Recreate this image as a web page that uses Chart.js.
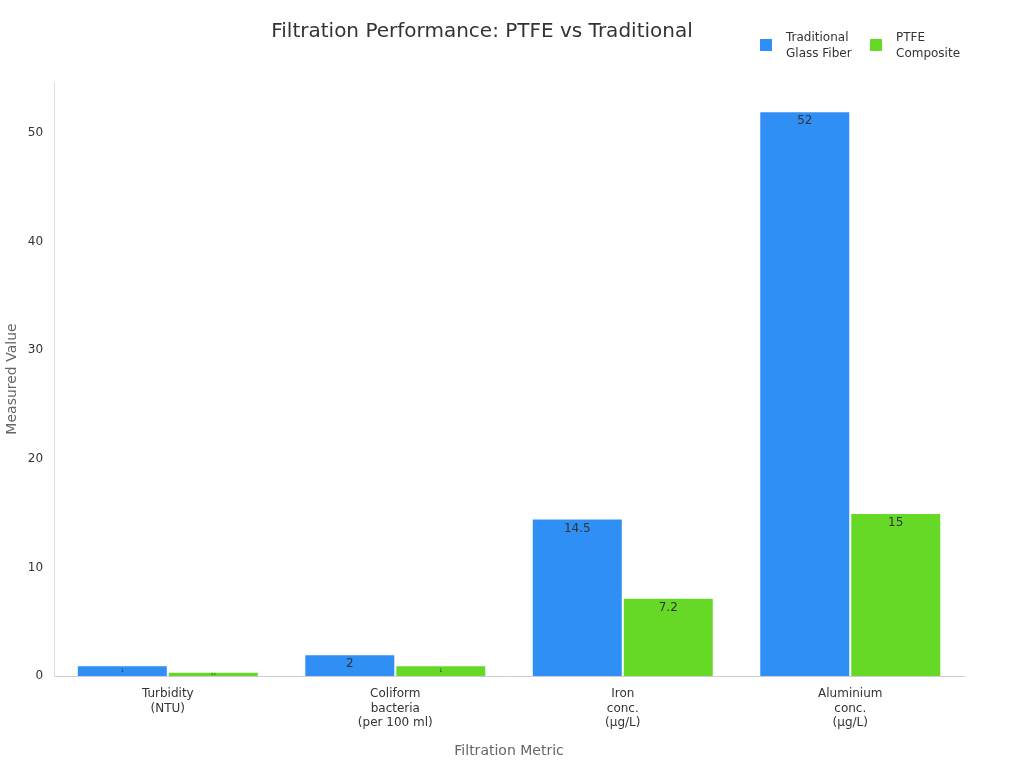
<!DOCTYPE html>
<html><head><meta charset="utf-8">
<script src="https://cdn.jsdelivr.net/npm/chart.js@4"></script>
<style>html,body{margin:0;background:#fff}#w{width:1024px;height:768px}</style>
</head><body><div id="w"><canvas id="c"></canvas></div>
<script>
const categories = [["Turbidity","(NTU)"],["Coliform","bacteria","(per 100 ml)"],["Iron","conc.","(µg/L)"],["Aluminium","conc.","(µg/L)"]];
const traditional = [1, 2, 14.5, 52];
const ptfe = [0.4, 1, 7.2, 15];
const seriesNames = [["Traditional","Glass Fiber"],["PTFE","Composite"]];
const colors = ["#2f8ff5","#66d926"];
const F = "'DejaVu Sans', sans-serif";

const labelPlugin = {id:'vals', afterDatasetsDraw(chart){
  const ctx=chart.ctx;
  chart.data.datasets.forEach((ds,di)=>{
    chart.getDatasetMeta(di).data.forEach((bar,i)=>{
      const h=bar.base-bar.y; const fs=Math.min(12,Math.max(3,h-6));
      ctx.save();ctx.fillStyle='#333';ctx.font=fs+'px '+F;ctx.textAlign='center';ctx.textBaseline='middle';
      ctx.fillText(String(ds.data[i]),bar.x,bar.y+Math.min(10,h/2));ctx.restore();
    });
  });
}};
const legendPlugin = {id:'leg', afterDraw(chart){
  const ctx=chart.ctx; const xs=[760,870];
  ctx.save();ctx.font='12px '+F;ctx.textBaseline='middle';
  seriesNames.forEach((n,i)=>{
    ctx.fillStyle=colors[i];ctx.fillRect(xs[i],39,12,12);
    ctx.fillStyle='#333';ctx.fillText(n[0],xs[i]+26,38);ctx.fillText(n[1],xs[i]+26,54);
  });
  ctx.restore();
}};
new Chart(document.getElementById('c'),{type:'bar',
 data:{labels:categories,datasets:[
  {label:'Traditional Glass Fiber',data:traditional,backgroundColor:colors[0],borderColor:'#fff',borderWidth:1,categoryPercentage:0.8,barPercentage:1},
  {label:'PTFE Composite',data:ptfe,backgroundColor:colors[1],borderColor:'#fff',borderWidth:1,categoryPercentage:0.8,barPercentage:1}]},
 options:{responsive:true,maintainAspectRatio:false,animation:false,
  layout:{padding:{top:0,right:60,left:0,bottom:4}},
  plugins:{legend:{display:false},tooltip:{enabled:false},
   title:{display:true,text:'Filtration Performance: PTFE vs Traditional',color:'#333',font:{family:F,size:20,weight:'normal'},padding:{top:20,bottom:38}}},
  scales:{
   x:{grid:{display:false,drawTicks:true},border:{color:'#ccc'},ticks:{color:'#333',font:{family:F,size:12}},
      title:{display:true,text:'Filtration Metric',color:'#666',font:{family:F,size:14},padding:{top:10}}},
   y:{min:0,max:54.7,grid:{display:false},border:{color:'#ddd'},ticks:{stepSize:10,color:'#333',font:{family:F,size:12},callback:v=>v%10===0?v:''},
      title:{display:true,text:'Measured Value',color:'#666',font:{family:F,size:14}}}}},
 plugins:[labelPlugin,legendPlugin]});
</script></body></html>
